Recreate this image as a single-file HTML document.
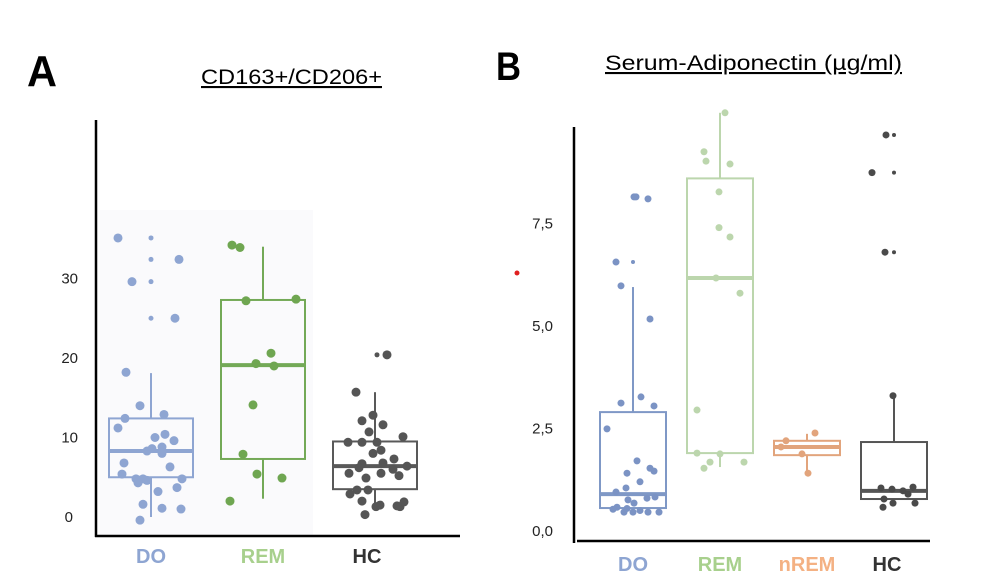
<!DOCTYPE html>
<html><head><meta charset="utf-8"><style>
body{margin:0;background:#fff;}
svg{display:block;font-family:"Liberation Sans",sans-serif;}
</style></head><body>
<svg id="c" width="988" height="583" viewBox="0 0 988 583">
<text x="27" y="86" font-size="44" font-weight="bold" textLength="30" lengthAdjust="spacingAndGlyphs">A</text>
<text x="201" y="84" font-size="21" textLength="181" lengthAdjust="spacingAndGlyphs" text-decoration="underline">CD163+/CD206+</text>
<text x="496" y="80" font-size="40" font-weight="bold" textLength="25" lengthAdjust="spacingAndGlyphs">B</text>
<text x="605" y="70" font-size="21" textLength="297" lengthAdjust="spacingAndGlyphs" text-decoration="underline">Serum-Adiponectin (µg/ml)</text>
<rect x="100" y="210" width="213" height="325" fill="#fafafc"/>
<circle cx="517" cy="273" r="2.5" fill="#e02020"/>
</svg>
<script>
// Panel A data
const catsA = ["DO","REM","HC"];
const boxA = [[0,5.0,8.3,12.4,18.1],[2.3,7.3,19.1,27.3,34.0],[0.9,3.5,6.4,9.5,15.7]];
const ptsA_DO = [35.1,35.1,32.4,32.4,29.6,29.6,25,25,18.2,14,12.4,12.9,11.2,10,10.4,9.6,8.3,8.6,8.8,8,6.8,6.3,5.4,4.8,4.8,4.6,4.8,4.3,3.2,3.7,1.6,1.1,1,-0.4];
const jitA_DO = [-33,0,0,28,-19,0,0,24,-25,-11,-26,13,-33,4,14,23,-4,1,11,11,-27,19,-29,-15,-8,-4,31,-13,7,26,-8,11,30,-11];
const szA_DO = [1,0,0,1,1,0,0,1,1,1,1,1,1,1,1,1,1,1,1,1,1,1,1,1,1,1,1,1,1,1,1,1,1,1];
const ptsA_REM = [34.2,33.9,27.2,27.4,20.6,19.3,19,14.1,7.9,5.4,4.9,2.0];
const jitA_REM = [-31,-23,-17,33,8,-7,11,-10,-20,-6,19,-33];
const ptsA_HC = [20.4,20.4,15.7,12.8,12.1,11.6,10.7,9.4,9.4,9.4,10.1,8.4,8.0,7.3,6.7,6.8,6.2,6.4,5.5,5.5,6.0,5.2,4.9,3.4,3.4,2.9,2.0,1.5,1.3,1.4,1.3,1.9,0.3];
const jitA_HC = [12,2,-19,-2,-13,8,-6,-27,-13,2,28,6,-2,19,-13,8,-16,32,-26,6,18,24,-9,-18,-7,-25,-13,5,1,22,25,29,-10];
const szA_HC = [1,0,1,1,1,1,1,1,1,1,1,1,1,1,1,1,1,1,1,1,1,1,1,1,1,1,1,1,1,1,1,1,1];
const ticksA = [0,10,20,30];
// Panel B data
const catsB = ["DO","REM","nREM","HC"];
const boxB = [[0.45,0.56,0.9,2.9,5.95],[1.56,1.9,6.17,8.6,10.2],[1.41,1.85,2.05,2.2,2.37],[0.78,0.78,0.98,2.17,3.3]];
const ptsB_DO = [8.15,8.15,8.1,6.56,6.56,5.98,5.17,3.27,3.12,3.05,2.49,1.71,1.53,1.46,1.41,1.2,1.05,0.95,0.8,0.83,0.76,0.68,0.58,0.53,0.55,0.46,0.46,0.5,0.46,0.46];
const jitB_DO = [1,3,15,-17,0,-12,17,8,-12,21,-26,4,17,21,-6,7,-7,-17,14,22,-5,1,-16,-20,-6,-9,0,7,15,26];
const szB_DO = [1,1,1,1,0,1,1,1,1,1,1,1,1,1,1,1,1,1,1,1,1,1,1,1,1,1,1,1,1,1];
const ptsB_REM = [10.2,9.25,9.02,8.95,8.27,7.4,7.17,6.17,5.8,2.95,1.9,1.88,1.68,1.68,1.53];
const jitB_REM = [5,-16,-14,10,-1,-1,10,-4,20,-23,-23,0,-10,24,-16];
const ptsB_NREM = [2.39,2.2,2.05,1.88,1.41];
const jitB_NREM = [8,-21,-26,-5,1];
const ptsB_HC = [9.66,9.66,8.74,8.74,6.8,6.8,3.3,1.05,1.02,0.98,1.07,0.9,0.78,0.68,0.68,0.58];
const jitB_HC = [-8,0,-22,0,-9,0,-1,-13,-2,9,19,14,-10,-1,21,-11];
const szB_HC = [1,0,1,0,1,0,1,1,1,1,1,1,1,1,1,1];
const ticksB = [0,2.5,5,7.5];

const svg = document.getElementById('c');
const NS = 'http://www.w3.org/2000/svg';
function mk(tag, attrs){const e=document.createElementNS(NS,tag);for(const k in attrs)e.setAttribute(k,attrs[k]);svg.appendChild(e);return e;}

// axis functions
const yA = v => 517 - 7.95*v;
const xA = i => 151 + 112*i;
const yB = v => 531 - 41*v;
const xB = i => 633 + 87*i;

function drawBox(b, cx, yf, w, color, thick, name){
  const sw = 2;
  let e;
  e = mk('line',{x1:cx,x2:cx,y1:yf(b[4]),y2:yf(b[3]),stroke:color,'stroke-width':sw});
  
  
  e = mk('line',{x1:cx,x2:cx,y1:yf(b[1]),y2:yf(b[0]),stroke:color,'stroke-width':sw});
  
  
  e = mk('rect',{x:cx-w/2,y:yf(b[3]),width:w,height:yf(b[1])-yf(b[3]),fill:'none',stroke:color,'stroke-width':sw});
  
  
  e = mk('line',{x1:cx-w/2,x2:cx+w/2,y1:yf(b[2]),y2:yf(b[2]),stroke:color,'stroke-width':thick});
  
  
}
function drawPts(vals, jit, sz, cx, yf, color, rBig, rSmall, name){
  vals.forEach((v,i)=>{
    const r = (sz && sz[i]===0) ? rSmall : rBig;
    const e = mk('circle',{cx:cx+jit[i],cy:yf(v),r:r,fill:color});
    
    
  });
}

// Panel A
const colA = ['#8ea5d2','#73a957','#595959'];
const ptcA = ['#8ea5d2','#6fa651','#555555'];
boxA.forEach((b,i)=>drawBox(b, xA(i), yA, 84, colA[i], 4, 'a-'+catsA[i].toLowerCase()));
drawPts(ptsA_DO, jitA_DO, szA_DO, xA(0), yA, ptcA[0], 4.5, 2.5, 'a-do');
drawPts(ptsA_REM, jitA_REM, null, xA(1), yA, ptcA[1], 4.5, 2.5, 'a-rem');
drawPts(ptsA_HC, jitA_HC, szA_HC, xA(2), yA, ptcA[2], 4.5, 2.5, 'a-hc');
let ax = mk('line',{x1:96,x2:96,y1:120,y2:537,stroke:'#000','stroke-width':2.5});


ax = mk('line',{x1:95,x2:460,y1:536,y2:536,stroke:'#000','stroke-width':2.5});


ticksA.forEach(t=>{
  const e = mk('text',{x:t===0?73:78,y:yA(t)+5,'font-size':15,'text-anchor':'end',fill:'#222'});
  e.textContent = String(t);
  
  
});
const labColA = ['#8ea5d2','#a8d08d','#333333'];
catsA.forEach((c,i)=>{
  const e = mk('text',{x:xA(i)+(i===2?-8:0),y:563,'font-size':20,'font-weight':'bold','text-anchor':'middle',fill:labColA[i]});
  e.textContent = c;
  
  
});

// Panel B
const colB = ['#7f98c6','#bcd6ad','#e2a47c','#555555'];
boxB.forEach((b,i)=>drawBox(b, xB(i), yB, 66, colB[i], 4, 'b-'+catsB[i].toLowerCase()));
drawPts(ptsB_DO, jitB_DO, szB_DO, xB(0), yB, '#7b93c4', 3.5, 2, 'b-do');
drawPts(ptsB_REM, jitB_REM, null, xB(1), yB, '#bcd6ad', 3.5, 2, 'b-rem');
drawPts(ptsB_NREM, jitB_NREM, null, xB(2), yB, '#e2a47c', 3.5, 2, 'b-nrem');
drawPts(ptsB_HC, jitB_HC, szB_HC, xB(3), yB, '#4a4a4a', 3.5, 2, 'b-hc');
ax = mk('line',{x1:574,x2:574,y1:127,y2:543,stroke:'#000','stroke-width':2.5});


ax = mk('line',{x1:577,x2:930,y1:541,y2:541,stroke:'#000','stroke-width':2.5});


ticksB.forEach(t=>{
  const e = mk('text',{x:553,y:yB(t)+5,'font-size':15,'text-anchor':'end',fill:'#222'});
  e.textContent = t.toFixed(1).replace('.',',');
  
  
});
const labColB = ['#8ea5d2','#a8d08d','#f4b183','#333333'];
catsB.forEach((c,i)=>{
  const e = mk('text',{x:xB(i)+(i===3?-7:0),y:571,'font-size':20,'font-weight':'bold','text-anchor':'middle',fill:labColB[i]});
  e.textContent = c;
  
  
});
</script>
</body></html>
